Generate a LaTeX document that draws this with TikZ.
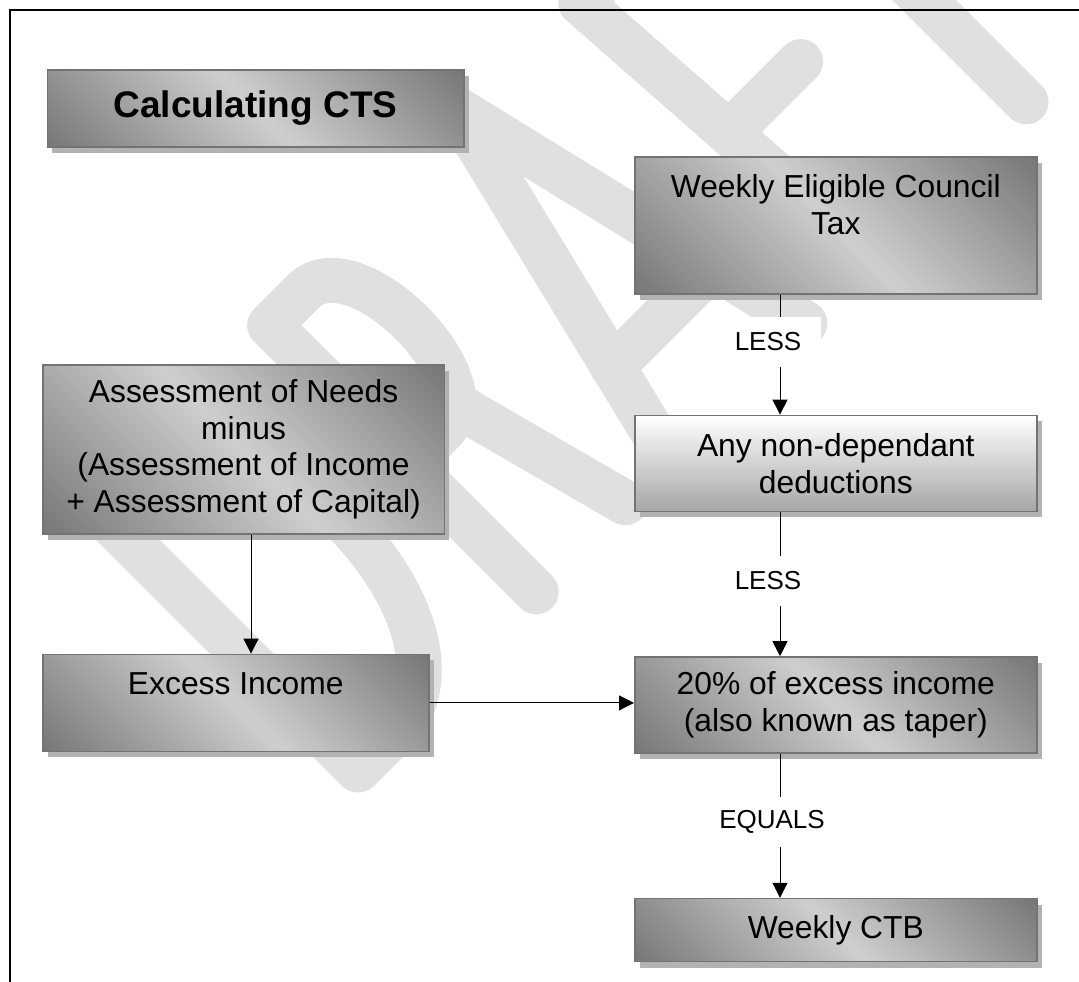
\documentclass[tikz,border=0pt]{standalone}
\usepackage{fontspec}
\setmainfont{Liberation Sans}
\usetikzlibrary{positioning,shadows,arrows.meta}
\pgfdeclareverticalshading{sheen}{100bp}{color(0bp)=(black!64); color(12bp)=(black!56); color(50bp)=(black!19); color(88bp)=(black!56); color(100bp)=(black!64)}

\begin{document}
\begin{tikzpicture}[x=1pt, y=-1pt,
  box/.style={draw=black!55, line width=1.6pt, inner sep=0pt, align=center,
    shade, shading=sheen, shading angle=135,
    drop shadow={shadow xshift=5pt, shadow yshift=-6pt, fill=black!30, opacity=1},
    font=\fontsize{31.8}{36.6}\selectfont},
  link/.style={line width=1pt, -{Triangle[length=15pt, width=15pt]}},
  tag/.style={fill=white, inner xsep=20pt, inner ysep=0pt, minimum height=50pt,
    font=\fontsize{26}{30}\selectfont},
  ink/.style={black!12, line width=45pt, line cap=round, line join=round}]
\useasboundingbox (0,0) rectangle (1079,982);

% watermark
\begin{scope}[shift={(358,770)}, x={(0.707pt,0.707pt)}, y={(-0.707pt,0.707pt)}]
\draw[ink] (0,0) -- (0,377) -- (50,377) .. controls (205,377) and (205,0) .. (50,0) -- cycle;
\draw[ink] (252,0) -- (252,377) -- (300,377) .. controls (372,377) and (372,180) .. (300,180) -- (252,180);
\draw[ink] (330,180) -- (378,0);
\draw[ink] (440,0) -- (537,399) -- (632,0);
\draw[ink] (465,105) -- (607,105);
\draw[ink] (725,0) -- (700,385) -- (830,385);
\draw[ink] (718,188) -- (814,188);
\draw[ink] (945,0) -- (945,385);
\draw[ink] (870,385) -- (1020,385);
\end{scope}

% frame
\draw[line width=1.5pt] (10,982) -- (10,10) -- (1079,10);

\node[box, anchor=north west, minimum width=416.5pt, minimum height=77pt,
  font=\fontsize{37}{44}\selectfont\bfseries] (title) at (46.5,69) {Calculating CTS};
\node[box, anchor=north west, minimum width=402pt, minimum height=137pt] (wect) at (634,156)
  {\parbox[c][137pt][t]{402pt}{\centering\vspace*{18pt}Weekly Eligible Council\\Tax}};
\node[box, below=120pt of wect, minimum width=402pt, minimum height=96pt,
  shading=axis, top color=white, bottom color=black!35, shading angle=0] (nondep) {Any non-dependant\\deductions};
\node[box, below=144pt of nondep, minimum width=402pt, minimum height=96pt] (taper)
  {20\% of excess income\\(also known as taper)};
\node[box, below=144pt of taper, minimum width=402pt, minimum height=63pt] (ctb) {Weekly CTB};
\node[box, anchor=north west, minimum width=401.5pt, minimum height=169pt] (assess) at (42,364)
  {Assessment of Needs\\minus\\(Assessment of Income\\+ Assessment of Capital)};
\node[box, below=119pt of assess.south west, anchor=north west, minimum width=386pt,
  minimum height=97pt] (excess)
  {\parbox[c][97pt][t]{386pt}{\centering\vspace*{18pt}Excess Income}};

\coordinate (rc) at (780,0);
\coordinate (lc) at (251,0);

\draw[link] (wect.south -| rc) -- (nondep.north -| rc);
\draw[link] (nondep.south -| rc) -- (taper.north -| rc);
\draw[link] (taper.south -| rc) -- (ctb.north -| rc);
\draw[link] (assess.south -| lc) -- (excess.north -| lc);
\draw[link] (excess.east) -- (excess.east -| taper.west);

\node[tag] (less1) at (768,342) {LESS};
\node[tag] (less2) at (768,581) {LESS};
\node[tag] (equals) at (772,822) {EQUALS};
\end{tikzpicture}
\end{document}
